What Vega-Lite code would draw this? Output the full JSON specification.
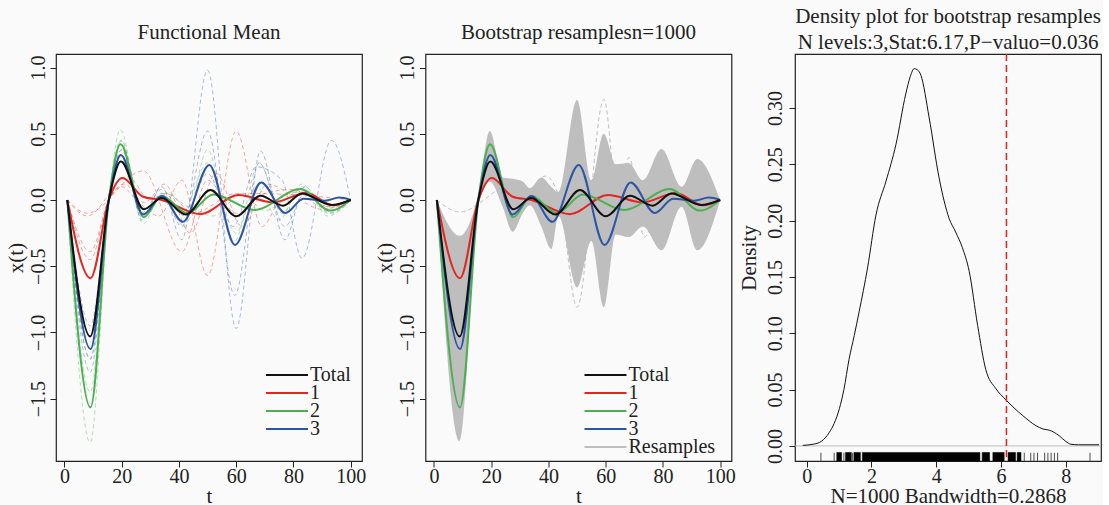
{
  "$schema": "https://vega.github.io/schema/vega-lite/v6.json",
  "background": "#fafafa",
  "padding": {"left": 4, "top": 5, "right": 0, "bottom": 0},
  "spacing": 63.5,
  "bounds": "flush",
  "config": {
    "font": "Liberation Serif",
    "view": {"stroke": "#222", "strokeWidth": 1.2},
    "axis": {"grid": false, "domain": false, "tickColor": "#222", "tickSize": 6, "labelFontSize": 20, "labelColor": "#222", "titleFontSize": 21, "titleFontWeight": "normal", "titleColor": "#222", "labelPadding": 2},
    "axisY": {"labelAngle": -90, "labelAlign": "center", "labelBaseline": "bottom", "titlePadding": 2},
    "axisX": {"titlePadding": -1, "labelPadding": -1},
    "title": {"fontSize": 21, "fontWeight": "normal", "color": "#222", "anchor": "middle"},
    "legend": {"orient": "none", "title": null, "symbolType": "stroke", "symbolSize": 1764, "symbolStrokeWidth": 2, "labelFontSize": 20, "labelColor": "#222", "clipHeight": 16, "rowPadding": -4, "labelOffset": 1, "padding": 0}
  },
  "resolve": {"scale": {"color": "independent", "stroke": "independent", "x": "independent", "y": "independent"}, "legend": {"color": "independent"}},
  "datasets": {
    "means": [
      {"grp": "1", "t": 1, "v": 0}, {"grp": "1", "t": 9.1, "v": -0.59}, {"grp": "1", "t": 15.5, "v": 0}, {"grp": "1", "t": 20.2, "v": 0.166}, {"grp": "1", "t": 27.5, "v": 0.025}, {"grp": "1", "t": 34, "v": 0}, {"grp": "1", "t": 47.5, "v": -0.107}, {"grp": "1", "t": 60.8, "v": 0.038}, {"grp": "1", "t": 73, "v": -0.018}, {"grp": "1", "t": 84.5, "v": 0.053}, {"grp": "1", "t": 93.9, "v": -0.04}, {"grp": "1", "t": 100, "v": 0},
      {"grp": "2", "t": 1, "v": 0}, {"grp": "2", "t": 9.1, "v": -1.565}, {"grp": "2", "t": 15.5, "v": 0}, {"grp": "2", "t": 19.6, "v": 0.42}, {"grp": "2", "t": 27.7, "v": -0.13}, {"grp": "2", "t": 34, "v": 0.03}, {"grp": "2", "t": 43, "v": -0.1}, {"grp": "2", "t": 52, "v": 0.042}, {"grp": "2", "t": 66.4, "v": -0.075}, {"grp": "2", "t": 82.5, "v": 0.083}, {"grp": "2", "t": 92.8, "v": -0.08}, {"grp": "2", "t": 100, "v": 0},
      {"grp": "3", "t": 1, "v": 0}, {"grp": "3", "t": 9.1, "v": -1.125}, {"grp": "3", "t": 15.5, "v": 0}, {"grp": "3", "t": 19.7, "v": 0.34}, {"grp": "3", "t": 27.5, "v": -0.11}, {"grp": "3", "t": 34, "v": 0.03}, {"grp": "3", "t": 41.4, "v": -0.165}, {"grp": "3", "t": 50.6, "v": 0.264}, {"grp": "3", "t": 59.6, "v": -0.34}, {"grp": "3", "t": 68.7, "v": 0.133}, {"grp": "3", "t": 77.2, "v": -0.098}, {"grp": "3", "t": 83.5, "v": 0.01}, {"grp": "3", "t": 91, "v": -0.005}, {"grp": "3", "t": 96, "v": 0.018}, {"grp": "3", "t": 100, "v": 0},
      {"grp": "Total", "t": 1, "v": 0}, {"grp": "Total", "t": 9, "v": -1.03}, {"grp": "Total", "t": 15.5, "v": 0}, {"grp": "Total", "t": 19.7, "v": 0.29}, {"grp": "Total", "t": 27.7, "v": -0.07}, {"grp": "Total", "t": 34, "v": 0.015}, {"grp": "Total", "t": 42.4, "v": -0.11}, {"grp": "Total", "t": 51, "v": 0.075}, {"grp": "Total", "t": 60, "v": -0.123}, {"grp": "Total", "t": 68.5, "v": 0.032}, {"grp": "Total", "t": 76.4, "v": -0.043}, {"grp": "Total", "t": 83, "v": 0.05}, {"grp": "Total", "t": 93.3, "v": -0.038}, {"grp": "Total", "t": 100, "v": 0}
    ],
    "indiv": [
      {"id": "b1", "grp": "3", "t": 1, "v": 0}, {"id": "b1", "grp": "3", "t": 9, "v": -1.3}, {"id": "b1", "grp": "3", "t": 15.5, "v": 0}, {"id": "b1", "grp": "3", "t": 20, "v": 0.45}, {"id": "b1", "grp": "3", "t": 27, "v": -0.15}, {"id": "b1", "grp": "3", "t": 34, "v": 0.1}, {"id": "b1", "grp": "3", "t": 41, "v": -0.3}, {"id": "b1", "grp": "3", "t": 50, "v": 0.98}, {"id": "b1", "grp": "3", "t": 60, "v": -0.97}, {"id": "b1", "grp": "3", "t": 68.5, "v": 0.37}, {"id": "b1", "grp": "3", "t": 77, "v": -0.3}, {"id": "b1", "grp": "3", "t": 84, "v": 0.1}, {"id": "b1", "grp": "3", "t": 92, "v": -0.08}, {"id": "b1", "grp": "3", "t": 100, "v": 0},
      {"id": "b2", "grp": "3", "t": 1, "v": 0}, {"id": "b2", "grp": "3", "t": 9, "v": -1.2}, {"id": "b2", "grp": "3", "t": 15.5, "v": 0}, {"id": "b2", "grp": "3", "t": 20, "v": 0.38}, {"id": "b2", "grp": "3", "t": 27, "v": -0.13}, {"id": "b2", "grp": "3", "t": 34, "v": 0.05}, {"id": "b2", "grp": "3", "t": 41, "v": -0.2}, {"id": "b2", "grp": "3", "t": 50, "v": 0.52}, {"id": "b2", "grp": "3", "t": 59.5, "v": -0.72}, {"id": "b2", "grp": "3", "t": 68, "v": 0.28}, {"id": "b2", "grp": "3", "t": 77, "v": -0.2}, {"id": "b2", "grp": "3", "t": 84, "v": 0.05}, {"id": "b2", "grp": "3", "t": 93, "v": -0.1}, {"id": "b2", "grp": "3", "t": 100, "v": 0},
      {"id": "b3", "grp": "3", "t": 1, "v": 0}, {"id": "b3", "grp": "3", "t": 9, "v": -0.95}, {"id": "b3", "grp": "3", "t": 15.5, "v": 0}, {"id": "b3", "grp": "3", "t": 20, "v": 0.3}, {"id": "b3", "grp": "3", "t": 27, "v": -0.1}, {"id": "b3", "grp": "3", "t": 34, "v": 0.08}, {"id": "b3", "grp": "3", "t": 42, "v": -0.12}, {"id": "b3", "grp": "3", "t": 50, "v": 0.2}, {"id": "b3", "grp": "3", "t": 59, "v": -0.2}, {"id": "b3", "grp": "3", "t": 67, "v": 0.25}, {"id": "b3", "grp": "3", "t": 76, "v": 0.15}, {"id": "b3", "grp": "3", "t": 83, "v": -0.44}, {"id": "b3", "grp": "3", "t": 93.3, "v": 0.45}, {"id": "b3", "grp": "3", "t": 100, "v": 0},
      {"id": "r1", "grp": "1", "t": 1, "v": 0}, {"id": "r1", "grp": "1", "t": 9, "v": -0.45}, {"id": "r1", "grp": "1", "t": 15.5, "v": 0}, {"id": "r1", "grp": "1", "t": 20, "v": 0.1}, {"id": "r1", "grp": "1", "t": 26, "v": -0.02}, {"id": "r1", "grp": "1", "t": 33, "v": -0.12}, {"id": "r1", "grp": "1", "t": 41, "v": 0.15}, {"id": "r1", "grp": "1", "t": 50, "v": -0.57}, {"id": "r1", "grp": "1", "t": 60, "v": 0.52}, {"id": "r1", "grp": "1", "t": 69, "v": -0.2}, {"id": "r1", "grp": "1", "t": 77, "v": 0.05}, {"id": "r1", "grp": "1", "t": 84, "v": 0.06}, {"id": "r1", "grp": "1", "t": 93, "v": -0.06}, {"id": "r1", "grp": "1", "t": 100, "v": 0},
      {"id": "r2", "grp": "1", "t": 1, "v": 0}, {"id": "r2", "grp": "1", "t": 8, "v": -0.1}, {"id": "r2", "grp": "1", "t": 27.5, "v": 0.22}, {"id": "r2", "grp": "1", "t": 41, "v": -0.39}, {"id": "r2", "grp": "1", "t": 50, "v": 0.15}, {"id": "r2", "grp": "1", "t": 60, "v": -0.1}, {"id": "r2", "grp": "1", "t": 70, "v": 0.05}, {"id": "r2", "grp": "1", "t": 80, "v": 0.08}, {"id": "r2", "grp": "1", "t": 90, "v": -0.05}, {"id": "r2", "grp": "1", "t": 100, "v": 0},
      {"id": "r3", "grp": "1", "t": 1, "v": 0}, {"id": "r3", "grp": "1", "t": 9, "v": -0.39}, {"id": "r3", "grp": "1", "t": 15.5, "v": 0}, {"id": "r3", "grp": "1", "t": 21, "v": 0.12}, {"id": "r3", "grp": "1", "t": 28, "v": -0.02}, {"id": "r3", "grp": "1", "t": 35, "v": 0.12}, {"id": "r3", "grp": "1", "t": 44, "v": -0.25}, {"id": "r3", "grp": "1", "t": 53, "v": 0.2}, {"id": "r3", "grp": "1", "t": 62, "v": -0.2}, {"id": "r3", "grp": "1", "t": 71, "v": 0.12}, {"id": "r3", "grp": "1", "t": 80, "v": 0.03}, {"id": "r3", "grp": "1", "t": 90, "v": -0.07}, {"id": "r3", "grp": "1", "t": 100, "v": 0},
      {"id": "r4", "grp": "1", "t": 1, "v": 0}, {"id": "r4", "grp": "1", "t": 8, "v": -0.12}, {"id": "r4", "grp": "1", "t": 22, "v": 0.18}, {"id": "r4", "grp": "1", "t": 30, "v": 0}, {"id": "r4", "grp": "1", "t": 36, "v": 0.05}, {"id": "r4", "grp": "1", "t": 45, "v": -0.1}, {"id": "r4", "grp": "1", "t": 60, "v": 0.05}, {"id": "r4", "grp": "1", "t": 80, "v": 0.04}, {"id": "r4", "grp": "1", "t": 100, "v": 0},
      {"id": "g1", "grp": "2", "t": 1, "v": 0}, {"id": "g1", "grp": "2", "t": 9, "v": -1.83}, {"id": "g1", "grp": "2", "t": 15.5, "v": 0}, {"id": "g1", "grp": "2", "t": 19.5, "v": 0.53}, {"id": "g1", "grp": "2", "t": 27.5, "v": -0.18}, {"id": "g1", "grp": "2", "t": 34, "v": 0.05}, {"id": "g1", "grp": "2", "t": 42, "v": -0.2}, {"id": "g1", "grp": "2", "t": 50, "v": 0.38}, {"id": "g1", "grp": "2", "t": 59, "v": -0.32}, {"id": "g1", "grp": "2", "t": 67, "v": 0.1}, {"id": "g1", "grp": "2", "t": 75, "v": -0.15}, {"id": "g1", "grp": "2", "t": 83, "v": 0.12}, {"id": "g1", "grp": "2", "t": 92, "v": -0.12}, {"id": "g1", "grp": "2", "t": 100, "v": 0},
      {"id": "g2", "grp": "2", "t": 1, "v": 0}, {"id": "g2", "grp": "2", "t": 9, "v": -1.45}, {"id": "g2", "grp": "2", "t": 15.5, "v": 0}, {"id": "g2", "grp": "2", "t": 19.5, "v": 0.45}, {"id": "g2", "grp": "2", "t": 27.5, "v": -0.12}, {"id": "g2", "grp": "2", "t": 34, "v": 0.02}, {"id": "g2", "grp": "2", "t": 41, "v": -0.1}, {"id": "g2", "grp": "2", "t": 50, "v": 0.28}, {"id": "g2", "grp": "2", "t": 60, "v": -0.25}, {"id": "g2", "grp": "2", "t": 68, "v": 0.28}, {"id": "g2", "grp": "2", "t": 76, "v": -0.1}, {"id": "g2", "grp": "2", "t": 83, "v": 0.1}, {"id": "g2", "grp": "2", "t": 92, "v": -0.1}, {"id": "g2", "grp": "2", "t": 100, "v": 0},
      {"id": "g3", "grp": "2", "t": 1, "v": 0}, {"id": "g3", "grp": "2", "t": 9, "v": -1.2}, {"id": "g3", "grp": "2", "t": 15.5, "v": 0}, {"id": "g3", "grp": "2", "t": 20, "v": 0.38}, {"id": "g3", "grp": "2", "t": 28, "v": -0.1}, {"id": "g3", "grp": "2", "t": 35, "v": 0.05}, {"id": "g3", "grp": "2", "t": 43, "v": -0.05}, {"id": "g3", "grp": "2", "t": 52, "v": -0.12}, {"id": "g3", "grp": "2", "t": 62, "v": 0.05}, {"id": "g3", "grp": "2", "t": 70, "v": -0.08}, {"id": "g3", "grp": "2", "t": 82, "v": 0.06}, {"id": "g3", "grp": "2", "t": 92, "v": -0.05}, {"id": "g3", "grp": "2", "t": 100, "v": 0}
    ],
    "env": [
      {"t": 1, "lo": 0, "hi": 0}, {"t": 9, "lo": -1.82, "hi": -0.27}, {"t": 15.5, "lo": -0.05, "hi": 0.05}, {"t": 19.5, "lo": 0.14, "hi": 0.52}, {"t": 24, "lo": -0.05, "hi": 0.17}, {"t": 27.5, "lo": -0.24, "hi": 0.16}, {"t": 31, "lo": -0.1, "hi": 0.14}, {"t": 33.5, "lo": -0.04, "hi": 0.09}, {"t": 37.5, "lo": -0.2, "hi": 0.17}, {"t": 41, "lo": -0.37, "hi": 0.1}, {"t": 43.5, "lo": -0.12, "hi": 0.06}, {"t": 50, "lo": -0.66, "hi": 0.755}, {"t": 55, "lo": -0.31, "hi": 0.15}, {"t": 59.3, "lo": -0.81, "hi": 0.5}, {"t": 63.5, "lo": -0.26, "hi": 0.27}, {"t": 68, "lo": -0.28, "hi": 0.28}, {"t": 73, "lo": -0.2, "hi": 0.15}, {"t": 79.5, "lo": -0.38, "hi": 0.385}, {"t": 86.5, "lo": -0.05, "hi": 0.1}, {"t": 92, "lo": -0.38, "hi": 0.31}, {"t": 100, "lo": 0, "hi": 0}
    ],
    "outl": [
      {"id": "o1", "t": 1, "v": 0}, {"id": "o1", "t": 9, "v": -0.9}, {"id": "o1", "t": 15.5, "v": 0}, {"id": "o1", "t": 19.5, "v": 0.3}, {"id": "o1", "t": 27.5, "v": -0.1}, {"id": "o1", "t": 33, "v": 0.05}, {"id": "o1", "t": 39, "v": 0.18}, {"id": "o1", "t": 44, "v": 0}, {"id": "o1", "t": 50, "v": -0.81}, {"id": "o1", "t": 59.4, "v": 0.76}, {"id": "o1", "t": 64, "v": 0.05}, {"id": "o1", "t": 68.2, "v": 0.32}, {"id": "o1", "t": 73.5, "v": -0.28}, {"id": "o1", "t": 81, "v": 0.1}, {"id": "o1", "t": 90, "v": -0.05}, {"id": "o1", "t": 100, "v": 0},
      {"id": "o2", "t": 1, "v": 0}, {"id": "o2", "t": 9, "v": -0.09}, {"id": "o2", "t": 27, "v": 0.11}, {"id": "o2", "t": 34, "v": 0.02}, {"id": "o2", "t": 42, "v": 0}, {"id": "o2", "t": 50, "v": 0.05}, {"id": "o2", "t": 60, "v": -0.05}, {"id": "o2", "t": 70, "v": 0.02}, {"id": "o2", "t": 80, "v": 0}, {"id": "o2", "t": 90, "v": 0.02}, {"id": "o2", "t": 100, "v": 0}
    ],
    "dens": [
      {"x": -0.12, "d": 0.0005}, {"x": 0.2, "d": 0.0015}, {"x": 0.45, "d": 0.004}, {"x": 0.7, "d": 0.012}, {"x": 0.85, "d": 0.02}, {"x": 1.01, "d": 0.033}, {"x": 1.15, "d": 0.05}, {"x": 1.31, "d": 0.077}, {"x": 1.47, "d": 0.098}, {"x": 1.62, "d": 0.119}, {"x": 1.88, "d": 0.158}, {"x": 2.14, "d": 0.205}, {"x": 2.45, "d": 0.235}, {"x": 2.76, "d": 0.268}, {"x": 3.06, "d": 0.3125}, {"x": 3.2, "d": 0.328}, {"x": 3.32, "d": 0.335}, {"x": 3.42, "d": 0.334}, {"x": 3.53, "d": 0.329}, {"x": 3.78, "d": 0.292}, {"x": 4.09, "d": 0.238}, {"x": 4.4, "d": 0.202}, {"x": 4.6, "d": 0.19}, {"x": 4.81, "d": 0.176}, {"x": 5.02, "d": 0.155}, {"x": 5.28, "d": 0.107}, {"x": 5.53, "d": 0.068}, {"x": 5.84, "d": 0.051}, {"x": 6.15, "d": 0.041}, {"x": 6.67, "d": 0.027}, {"x": 7.08, "d": 0.018}, {"x": 7.3, "d": 0.015}, {"x": 7.49, "d": 0.014}, {"x": 7.8, "d": 0.009}, {"x": 8.0, "d": 0.004}, {"x": 8.16, "d": 0.0015}, {"x": 8.4, "d": 0.001}, {"x": 9.03, "d": 0.001}
    ]
  },
  "hconcat": [
    {
      "width": 306, "height": 407,
      "title": {"text": "Functional Mean", "offset": 11},
      "encoding": {
        "x": {"field": "t", "type": "quantitative", "scale": {"domain": [-2.96, 103.96], "nice": false, "zero": false}, "axis": {"values": [0, 20, 40, 60, 80, 100], "title": "t"}},
        "y": {"field": "v", "type": "quantitative", "scale": {"domain": [-1.97, 1.102], "nice": false, "zero": false}, "axis": {"values": [-1.5, -1, -0.5, 0, 0.5, 1], "format": ".1f", "title": "x(t)"}}
      },
      "layer": [
        {"data": {"name": "indiv"}, "mark": {"type": "line", "interpolate": "monotone", "strokeWidth": 1, "strokeDash": [4, 3], "opacity": 0.4},
         "encoding": {"detail": {"field": "id"}, "stroke": {"field": "grp", "type": "nominal", "scale": {"domain": ["1", "2", "3"], "range": ["#e3261f", "#4cb050", "#2d55a5"]}, "legend": null}}},
        {"data": {"name": "means"}, "mark": {"type": "line", "interpolate": "monotone", "strokeWidth": 2},
         "encoding": {"color": {"field": "grp", "type": "nominal", "scale": {"domain": ["Total", "1", "2", "3"], "range": ["#111111", "#e3261f", "#4cb050", "#2d55a5"]}, "legend": {"legendX": 209, "legendY": 313}}}}
      ]
    },
    {
      "width": 306, "height": 407,
      "title": {"text": "Bootstrap resamplesn=1000", "offset": 11},
      "encoding": {
        "x": {"field": "t", "type": "quantitative", "scale": {"domain": [-2.96, 103.96], "nice": false, "zero": false}, "axis": {"values": [0, 20, 40, 60, 80, 100], "title": "t"}},
        "y": {"field": "v", "type": "quantitative", "scale": {"domain": [-1.97, 1.102], "nice": false, "zero": false}, "axis": {"values": [-1.5, -1, -0.5, 0, 0.5, 1], "format": ".1f", "title": "x(t)"}}
      },
      "layer": [
        {"data": {"name": "env"}, "mark": {"type": "area", "interpolate": "monotone", "color": "#bebebe"},
         "encoding": {"y": {"field": "lo", "type": "quantitative"}, "y2": {"field": "hi"}}},
        {"data": {"name": "outl"}, "mark": {"type": "line", "interpolate": "monotone", "strokeWidth": 1, "strokeDash": [4, 3], "color": "#bebebe"},
         "encoding": {"detail": {"field": "id"}}},
        {"data": {"name": "means"}, "mark": {"type": "line", "interpolate": "monotone", "strokeWidth": 2},
         "encoding": {"color": {"field": "grp", "type": "nominal", "scale": {"domain": ["Total", "1", "2", "3", "Resamples"], "range": ["#111111", "#e3261f", "#4cb050", "#2d55a5", "#bebebe"]}, "legend": {"legendX": 158, "legendY": 313}}}}
      ]
    },
    {
      "width": 306, "height": 407,
      "title": {"text": ["Density plot for bootstrap resamples", "N levels:3,Stat:6.17,P−valuo=0.036"], "offset": 0, "lineHeight": 26},
      "layer": [
        {"data": {"values": [{"h": 0}]}, "mark": {"type": "rule", "color": "#bebebe", "strokeWidth": 1},
         "encoding": {"y": {"field": "h", "type": "quantitative", "scale": {"domain": [-0.0134, 0.348], "nice": false, "zero": false}, "axis": {"values": [0, 0.05, 0.1, 0.15, 0.2, 0.25, 0.3], "format": ".2f", "title": "Density", "titlePadding": 6, "labelPadding": 4}}}},
        {"data": {"name": "dens"}, "mark": {"type": "line", "interpolate": "monotone", "color": "#111111", "strokeWidth": 1},
         "encoding": {"x": {"field": "x", "type": "quantitative", "scale": {"domain": [-0.36, 9.09], "nice": false, "zero": false}, "axis": {"values": [0, 2, 4, 6, 8], "format": "d", "title": "N=1000 Bandwidth=0.2868"}}, "y": {"field": "d", "type": "quantitative"}}},
        {"data": {"values": [{"stat": 6.17}]}, "mark": {"type": "rule", "color": "#e8201c", "strokeWidth": 1.5, "strokeDash": [7, 4]}, "encoding": {"x": {"field": "stat", "type": "quantitative"}}},
        {"data": {"values": [{"lo": 0.93, "hi": 1.08}, {"lo": 1.2, "hi": 1.38}, {"lo": 1.46, "hi": 1.66}, {"lo": 1.72, "hi": 5.35}, {"lo": 5.42, "hi": 5.65}, {"lo": 5.75, "hi": 6.1}, {"lo": 6.22, "hi": 6.45}, {"lo": 6.5, "hi": 6.62}]},
         "mark": {"type": "rect", "fill": "#000000", "stroke": "#000000", "strokeWidth": 0.5, "opacity": 1},
         "encoding": {"x": {"field": "lo", "type": "quantitative"}, "x2": {"field": "hi"}, "y": {"datum": -0.0134, "type": "quantitative"}, "y2": {"datum": -0.0058}}},
        {"data": {"values": [{"r": 0.44}, {"r": 0.85}, {"r": 1.15}, {"r": 1.42}, {"r": 6.72}, {"r": 6.92}, {"r": 7.02}, {"r": 7.13}, {"r": 7.35}, {"r": 7.45}, {"r": 7.55}, {"r": 7.65}, {"r": 7.75}, {"r": 8.75}]},
         "mark": {"type": "tick", "orient": "vertical", "color": "#000000", "thickness": 1, "size": 8},
         "encoding": {"x": {"field": "r", "type": "quantitative"}, "y": {"datum": -0.0096, "type": "quantitative"}}}
      ]
    }
  ]
}
